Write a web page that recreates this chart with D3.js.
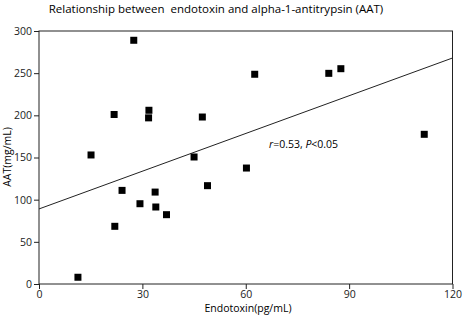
<!DOCTYPE html>
<html>
<head>
<meta charset="utf-8">
<title>Endotoxin vs AAT</title>
<script src="https://d3js.org/d3.v7.min.js"></script>
<style>
  body { margin: 0; background: #fff; }
  svg { display: block; font-family: "Open Sans", sans-serif; }
</style>
</head>
<body>
<svg id="chart" width="463" height="317"></svg>
<script>
// data
const endotoxin = [11.3, 15.1, 21.8, 22, 24.1, 27.5, 29.3, 31.8, 31.9, 33.7, 33.9, 37, 45, 47.4, 48.9, 60.2, 62.6, 84.1, 87.6, 111.8];
const aat       = [8, 153, 201, 68.4, 111, 289, 95.2, 197, 206, 109, 91.3, 82.2, 150.6, 198, 116.6, 137.5, 248.7, 249.8, 255.3, 177.5];
const fitX = [0, 120];
const fitY = [89, 268];
const xTicks = [0, 30, 60, 90, 120];
const yTicks = [0, 50, 100, 150, 200, 250, 300];

const svg = d3.select("#chart");
const x = d3.scaleLinear().domain([0, 120]).range([39, 452.5]);
const y = d3.scaleLinear().domain([0, 300]).range([284, 31]);

// title (double space kept as in the original)
svg.append("text")
    .attr("x", 216).attr("y", 13)
    .attr("text-anchor", "middle")
    .style("font-size", "11.5px")
    .style("white-space", "pre")
    .text("Relationship between  endotoxin and alpha-1-antitrypsin (AAT)");

// frame
svg.append("rect")
    .attr("x", x(0)).attr("y", y(300))
    .attr("width", x(120) - x(0)).attr("height", y(0) - y(300))
    .attr("fill", "none").attr("stroke", "#222").attr("stroke-width", 1);

const xAxis = svg.append("g")
    .attr("transform", `translate(0,${y(0)})`)
    .call(d3.axisBottom(x).tickValues(xTicks).tickSize(5).tickPadding(2));
const yAxis = svg.append("g")
    .attr("transform", `translate(${x(0)},0)`)
    .call(d3.axisLeft(y).tickValues(yTicks).tickSize(5).tickPadding(2));
[xAxis, yAxis].forEach(g => {
  g.select(".domain").remove();
  g.selectAll("line").attr("stroke", "#222");
  g.selectAll("text").style("font-size", "10.5px").style("font-family", "'Open Sans', sans-serif").attr("fill", "#222");
});

// axis labels
svg.append("text")
    .attr("x", 248).attr("y", 312)
    .attr("text-anchor", "middle")
    .style("font-size", "10.5px")
    .text("Endotoxin(pg/mL)");
svg.append("text")
    .attr("transform", "translate(11,157) rotate(-90)")
    .attr("text-anchor", "middle")
    .style("font-size", "10.5px")
    .text("AAT(mg/mL)");

// regression line
const line = d3.line().x(d => x(d[0])).y(d => y(d[1]));
svg.append("path")
    .datum(d3.zip(fitX, fitY))
    .attr("d", line)
    .attr("fill", "none")
    .attr("stroke", "#222")
    .attr("stroke-width", 1);

// points
const s = 7;
svg.append("g")
  .selectAll("rect")
  .data(d3.zip(endotoxin, aat))
  .join("rect")
    .attr("x", d => x(d[0]) - s / 2)
    .attr("y", d => y(d[1]) - s / 2)
    .attr("width", s).attr("height", s)
    .attr("fill", "#000");

// annotation
const ann = svg.append("text")
    .attr("x", 269).attr("y", 148)
    .style("font-size", "10.5px");
ann.append("tspan").style("font-style", "italic").text("r");
ann.append("tspan").text("=0.53, ");
ann.append("tspan").style("font-style", "italic").text("P");
ann.append("tspan").text("<0.05");
</script>
</body>
</html>
